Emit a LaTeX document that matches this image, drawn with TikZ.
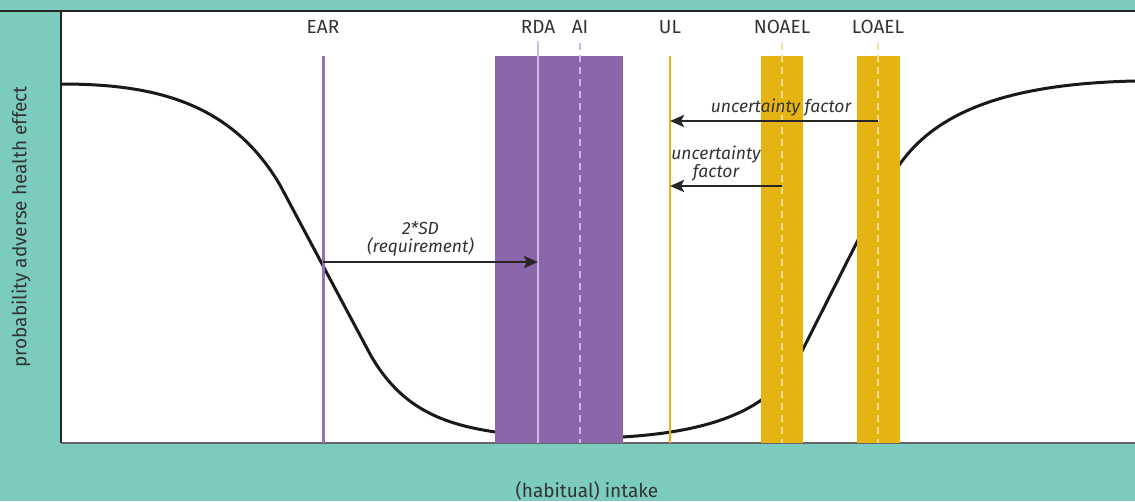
\documentclass[tikz,border=0pt]{standalone}
\usepackage{fontspec}
\setmainfont{Fira Sans}
\usetikzlibrary{positioning}
\usetikzlibrary{arrows.meta}
\usetikzlibrary{calc}

\definecolor{tealbg}{HTML}{7BCBBF}
\definecolor{dri}{HTML}{8C66AA}
\definecolor{earline}{HTML}{9A6DBA}
\definecolor{drilight}{HTML}{CDB9DF}
\definecolor{tox}{HTML}{E6B412}
\definecolor{toxlight}{HTML}{F6DC94}
\definecolor{txt}{HTML}{333333}

\begin{document}
\begin{tikzpicture}[x=1pt,y=-1pt,
    lbl/.style={text=txt, font=\fontsize{19}{20}\selectfont},
    note/.style={text=txt, font=\fontsize{17.5}{18.5}\selectfont\itshape, align=center, inner sep=1pt},
    arr/.style={line width=2.8pt, draw=black!85, -{Stealth[length=14pt,width=12pt,inset=3pt]}},
    bar/.style={fill=#1, draw=none}]
  \useasboundingbox (0,0) rectangle (1135,501);

  % background and plot area
  \fill[tealbg] (0,0) rectangle (1135,501);
  \fill[white] (61,11) rectangle (1135,443);
  \draw[black!85, line width=1.8pt] (0,11) -- (1135,11);
  \draw[black!85, line width=1.3pt] (61,11) -- (61,443);
  \draw[black!60, line width=1.3pt] (61,443) -- (1135,443);

  % dose response curve
  \draw[line width=3pt, black!90]
    (61,84) .. controls (150,84) and (230,100) .. (280,185)
    -- (370,354) .. controls (410,425) and (470,432) .. (560,438)
    .. controls (720,441) and (775,405) .. (800,355)
    -- (858,240) -- (890,180) .. controls (925,115) and (1000,84) .. (1135,81);

  % bands
  \fill[bar=dri] (495,56) rectangle (623,443);
  \fill[bar=tox] (761,56) rectangle (803,443);
  \fill[bar=tox] (857,56) rectangle (900,443);

  % reference values
  \node[lbl] (ear)   at (323,27) {EAR};
  \node[lbl] (rda)   at (538,27) {RDA};
  \node[lbl] (ai)    at (580,27) {AI};
  \node[lbl] (ul)    at (670,27) {UL};
  \node[lbl] (noael) at (782,27) {NOAEL};
  \node[lbl] (loael) at (878,27) {LOAEL};

  \coordinate (eartop) at (323,56);   \coordinate (earbot) at (323,443);
  \coordinate (rdatop) at (538,41);   \coordinate (rdabot) at (538,443);
  \coordinate (aitop) at (580,43);    \coordinate (aibot) at (580,443);
  \coordinate (ultop) at (670,56);    \coordinate (ulbot) at (670,443);
  \coordinate (noaeltop) at (782,43); \coordinate (noaelbot) at (782,443);
  \coordinate (loaeltop) at (878,43); \coordinate (loaelbot) at (878,443);

  \draw[earline, line width=3pt] (eartop) -- (earbot);
  \draw[drilight, line width=1.6pt] (rdatop) -- (rdabot);
  \draw[drilight, line width=1.6pt, dash pattern=on 7pt off 5pt] (aitop) -- (aibot);
  \draw[tox, line width=2.6pt] (ultop) -- (ulbot);
  \draw[toxlight, line width=1.4pt, dash pattern=on 7pt off 5pt] (noaeltop) -- (noaelbot);
  \draw[toxlight, line width=1.4pt, dash pattern=on 7pt off 5pt] (loaeltop) -- (loaelbot);

  % arrows
  \coordinate (sdstart) at (323,262);  \coordinate (sdend) at (538,262);
  \coordinate (uf1start) at (878,121); \coordinate (uf1end) at (670,121);
  \coordinate (uf2start) at (782,186); \coordinate (uf2end) at (670,186);

  \draw[arr] (sdstart) -- node[note, above=3pt, xshift=-10pt] {2*SD\\(requirement)} (sdend);
  \draw[arr] (uf1start) -- node[note, above=2pt, xshift=7pt] {uncertainty factor} (uf1end);
  \draw[arr] (uf2start) -- node[note, above=2pt, xshift=-10pt] {uncertainty\\factor} (uf2end);

  % axis titles
  \node[lbl, rotate=90] (ylab) at (21,227) {probability adverse health effect};
  \node[lbl] (xlab) at (587,491) {(habitual) intake};
\end{tikzpicture}
\end{document}
